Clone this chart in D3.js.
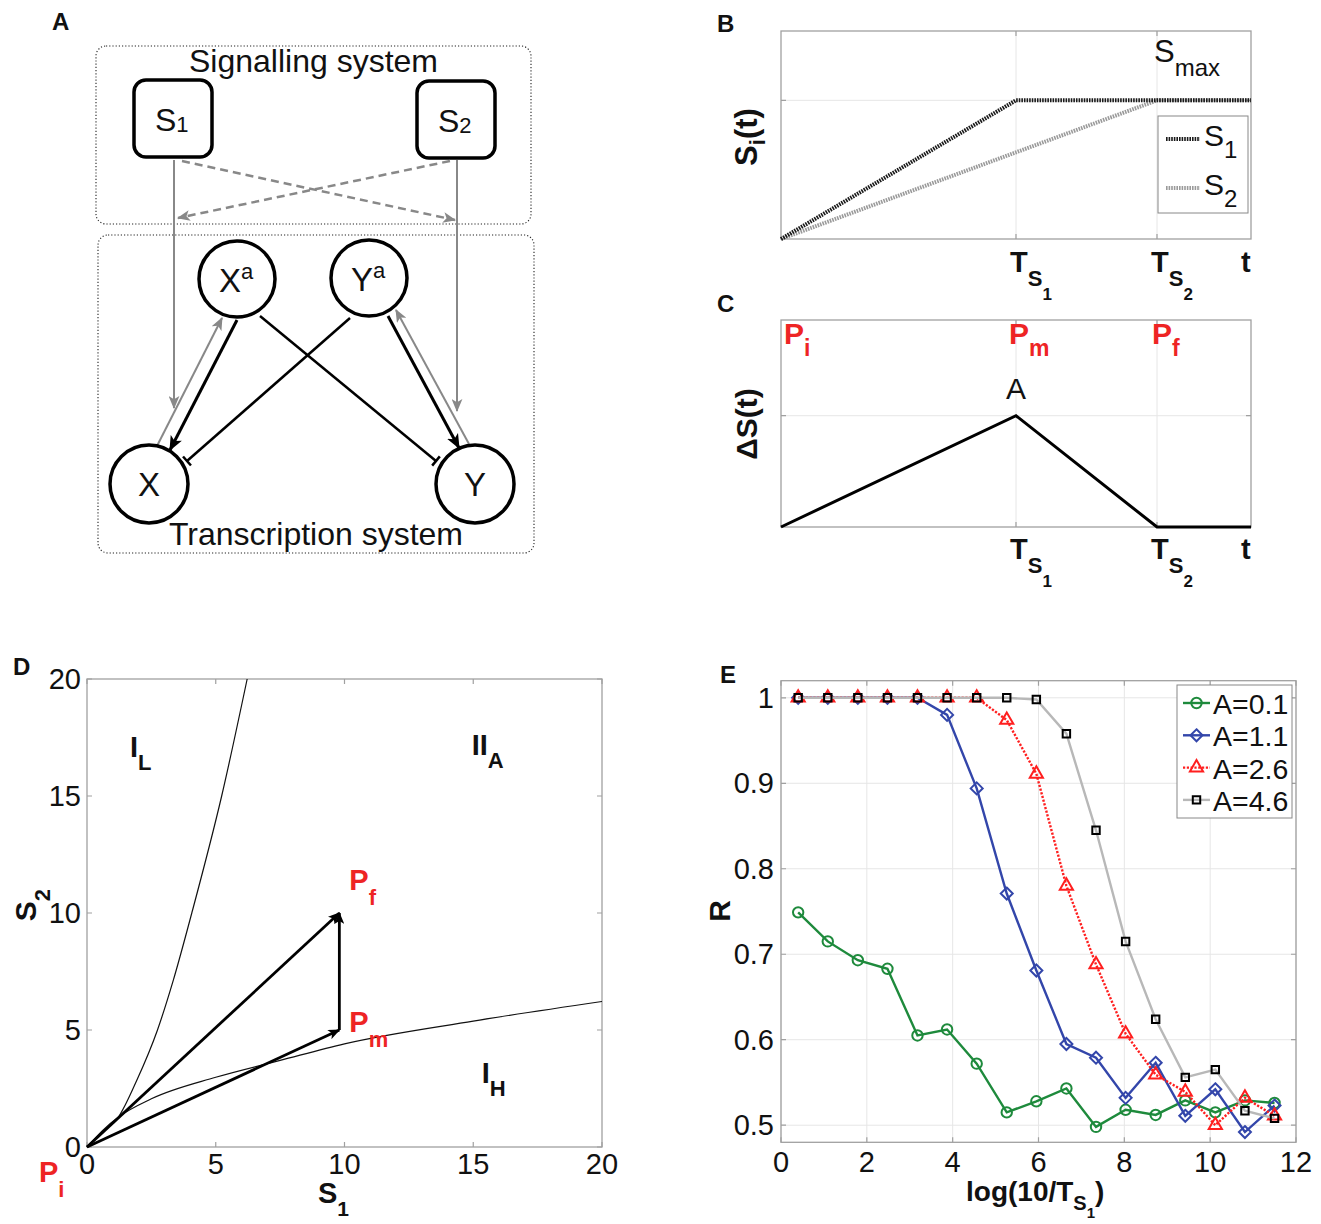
<!DOCTYPE html>
<html>
<head>
<meta charset="utf-8">
<script src="https://cdn.jsdelivr.net/npm/d3@7"></script>
<style>
body{margin:0;background:#fff}
text{font-family:"Liberation Sans",Arial,sans-serif}
</style>
</head>
<body>
<svg id="fig" width="1321" height="1224"></svg>
<script>
// ---- data ----
// panel E: x = log(10/T_S1), one R series per amplitude A
var logT   = [0.40,1.09,1.79,2.48,3.18,3.87,4.56,5.26,5.95,6.65,7.34,8.03,8.73,9.42,10.12,10.81,11.50];
var rA01   = [0.749,0.715,0.693,0.683,0.605,0.612,0.572,0.515,0.528,0.543,0.498,0.518,0.512,0.529,0.515,0.529,0.526];
var rA11   = [1,1,1,1,1,0.980,0.894,0.771,0.681,0.595,0.579,0.532,0.573,0.511,0.542,0.492,0.523];
var rA26   = [1,1,1,1,1,1,1,0.974,0.911,0.780,0.688,0.607,0.559,0.539,0.500,0.532,0.511];
var rA46   = [1,1,1,1,1,1,1,1,0.998,0.958,0.845,0.715,0.624,0.556,0.565,0.517,0.508];
var ampLabels = ["A=0.1","A=1.1","A=2.6","A=4.6"];
var eXTicks = [0,2,4,6,8,10,12];
var eYTicks = [0.5,0.6,0.7,0.8,0.9,1];

// panel D: phase boundaries and the Pi -> Pm -> Pf path
var upperS1 = [0,0.6,1.22,1.93,2.73,3.35,4.07,5.23,6.22];
var upperS2 = [0,0.65,1.28,2.84,4.98,7.12,10,15,20];
var lowerS1 = [0,0.6,1.22,2.5,5,7.5,10,15,20];
var lowerS2 = [0,0.7,1.28,2.06,2.98,3.7,4.41,5.38,6.22];
var pathS1  = [0,9.8,9.8];
var pathS2  = [0,5,10];
var dTicks  = [0,5,10,15,20];

// panels B and C: time courses (t in arbitrary units, T_S1 = 5, T_S2 = 8)
var tTimes  = [0,5,8,10];
var s1Vals  = [0,1,1,1];
var s2Vals  = [0,0.625,1,1];
var dSVals  = [0,1,0,0];

var svg = d3.select("#fig");
var RED = "#ee2424";

// text with chained sub/superscripts: parts = [[text, dy, size], ...]
function rich(g, x, y, parts, opt){
  opt = opt || {};
  var t = g.append("text").attr("x", x).attr("y", y)
    .attr("fill", opt.fill || "#111")
    .attr("font-weight", opt.weight || "normal")
    .attr("text-anchor", opt.anchor || "start");
  if (opt.rotate) t.attr("transform", "rotate(-90," + x + "," + y + ")");
  parts.forEach(function(p){
    t.append("tspan").attr("dy", p[1]).attr("font-size", p[2]).text(p[0]);
  });
  return t;
}
function letter(x, y, s){
  svg.append("text").attr("x", x).attr("y", y).attr("font-size", 24)
    .attr("font-weight", "bold").attr("fill", "#111").text(s);
}

// markers
var defs = svg.append("defs");
function arrowMarker(id, color, w, h){
  defs.append("marker").attr("id", id).attr("markerUnits", "userSpaceOnUse")
    .attr("viewBox", "0 0 12 10").attr("refX", 11).attr("refY", 5)
    .attr("markerWidth", w).attr("markerHeight", h).attr("orient", "auto")
    .append("path").attr("d", "M0,0 L12,5 L0,10 L3,5 Z").attr("fill", color);
}
arrowMarker("aBlk", "#000", 15, 13);
arrowMarker("aGry", "#888", 13, 11);
arrowMarker("aD", "#000", 13, 10);
defs.append("marker").attr("id", "tBar").attr("markerUnits", "userSpaceOnUse")
  .attr("viewBox", "-2 -7 4 14").attr("refX", 0).attr("refY", 0)
  .attr("markerWidth", 4).attr("markerHeight", 14).attr("orient", "auto")
  .append("path").attr("d", "M0,-6 L0,6").attr("stroke", "#000").attr("stroke-width", 2.5);

// ================= panel A : network diagram =================
letter(52, 30, "A");
var gA = svg.append("g");
var boxes = [{x:96,y:46,w:435,h:178,label:"Signalling system",ly:72},
             {x:98,y:235,w:436,h:318,label:"Transcription system",ly:545}];
boxes.forEach(function(b){
  gA.append("rect").attr("x", b.x).attr("y", b.y).attr("width", b.w).attr("height", b.h)
    .attr("rx", 10).attr("fill", "none").attr("stroke", "#222")
    .attr("stroke-width", 1.1).attr("stroke-dasharray", "1.2,2");
  gA.append("text").attr("x", b.x + b.w/2).attr("y", b.ly).attr("text-anchor", "middle")
    .attr("font-size", 32).attr("fill", "#111").text(b.label);
});
var sigNodes = [{id:"S",sub:"1",x:134,y:80},{id:"S",sub:"2",x:417,y:81}];
sigNodes.forEach(function(n){
  gA.append("rect").attr("x", n.x).attr("y", n.y).attr("width", 78).attr("height", 77)
    .attr("rx", 12).attr("fill", "#fff").attr("stroke", "#000").attr("stroke-width", 3.5);
  rich(gA, n.x + 21, n.y + 51, [[n.id, 0, 32], [n.sub, 1, 22]]);
});
var txNodes = [{id:"X",sup:"a",cx:237,cy:279,r:38},{id:"Y",sup:"a",cx:369,cy:278,r:38},
               {id:"X",sup:"",cx:149,cy:484,r:39},{id:"Y",sup:"",cx:475,cy:484,r:39}];
var edges = [
  {x1:174,y1:160,x2:174,y2:408,c:"#888",w:2,m:"aGry"},
  {x1:457,y1:160,x2:457,y2:411,c:"#888",w:2,m:"aGry"},
  {x1:182,y1:161,x2:455,y2:220,c:"#888",w:2.5,m:"aGry",dash:"8,5"},
  {x1:450,y1:161,x2:178,y2:218,c:"#888",w:2.5,m:"aGry",dash:"8,5"},
  {x1:157,y1:446,x2:222,y2:318,c:"#888",w:2,m:"aGry"},
  {x1:237,y1:320,x2:170,y2:450,c:"#000",w:3,m:"aBlk"},
  {x1:260,y1:316,x2:436,y2:461,c:"#000",w:2.5,m:"tBar"},
  {x1:350,y1:318,x2:187,y2:461,c:"#000",w:2.5,m:"tBar"},
  {x1:388,y1:316,x2:459,y2:448,c:"#000",w:3,m:"aBlk"},
  {x1:469,y1:444,x2:396,y2:310,c:"#888",w:2,m:"aGry"}
];
edges.forEach(function(e){
  gA.append("line").attr("x1", e.x1).attr("y1", e.y1).attr("x2", e.x2).attr("y2", e.y2)
    .attr("stroke", e.c).attr("stroke-width", e.w)
    .attr("stroke-dasharray", e.dash || null)
    .attr("marker-end", "url(#" + e.m + ")");
});
txNodes.forEach(function(n){
  gA.append("circle").attr("cx", n.cx).attr("cy", n.cy).attr("r", n.r)
    .attr("fill", "#fff").attr("stroke", "#000").attr("stroke-width", 3.5);
  if (n.sup) rich(gA, n.cx - 18, n.cy + 13, [[n.id, 0, 33], [n.sup, -13, 22]]);
  else gA.append("text").attr("x", n.cx).attr("y", n.cy + 12).attr("text-anchor", "middle")
        .attr("font-size", 33).attr("fill", "#111").text(n.id);
});

// ================= helper: matlab-like axes box =================
function boxAxes(g, x, y, xt, yt, opt){
  var x0 = x.range()[0], x1 = x.range()[1], y0 = y.range()[0], y1 = y.range()[1];
  if (opt.grid){
    g.selectAll(null).data(xt).enter().append("line")
      .attr("x1", x).attr("x2", x).attr("y1", y1).attr("y2", y0)
      .attr("stroke", "#e6e6e6").attr("stroke-width", 1);
    g.selectAll(null).data(yt).enter().append("line")
      .attr("y1", y).attr("y2", y).attr("x1", x0).attr("x2", x1)
      .attr("stroke", "#e6e6e6").attr("stroke-width", 1);
  }
  g.append("rect").attr("x", x0).attr("y", y1).attr("width", x1 - x0).attr("height", y0 - y1)
    .attr("fill", "none").attr("stroke", "#a0a0a0").attr("stroke-width", 1.3);
  var tl = opt.tick || 5;
  g.selectAll(null).data(xt).enter().append("path")
    .attr("d", function(d){ return "M" + x(d) + "," + y0 + "v" + (-tl) + "M" + x(d) + "," + y1 + "v" + tl; })
    .attr("stroke", "#a0a0a0").attr("stroke-width", 1.2);
  g.selectAll(null).data(yt).enter().append("path")
    .attr("d", function(d){ return "M" + x0 + "," + y(d) + "h" + tl + "M" + x1 + "," + y(d) + "h" + (-tl); })
    .attr("stroke", "#a0a0a0").attr("stroke-width", 1.2);
}

// ================= panel B =================
letter(717, 32, "B");
var gB = svg.append("g");
var xB = d3.scaleLinear().domain([0,10]).range([781,1251]);
var yB = d3.scaleLinear().domain([0,1.5]).range([239,31]);
var tMarks = [tTimes[1], tTimes[2]];
boxAxes(gB, xB, yB, tMarks, [1], {grid:true});
var lineB = function(vals){
  return d3.line().x(function(d, i){ return xB(tTimes[i]); }).y(function(d){ return yB(d); })(vals);
};
gB.append("path").attr("d", lineB(s2Vals)).attr("fill", "none").attr("stroke", "#9a9a9a")
  .attr("stroke-width", 4).attr("stroke-dasharray", "1.6,1");
gB.append("path").attr("d", lineB(s1Vals)).attr("fill", "none").attr("stroke", "#1a1a1a")
  .attr("stroke-width", 4).attr("stroke-dasharray", "1.6,1");
rich(gB, 1154, 62, [["S", 0, 31], ["max", 14, 24]]);
// legend
gB.append("rect").attr("x", 1158).attr("y", 116).attr("width", 90).attr("height", 97)
  .attr("fill", "#fff").attr("stroke", "#888").attr("stroke-width", 1);
[["1", "#1a1a1a", 139], ["2", "#9a9a9a", 188]].forEach(function(l){
  gB.append("line").attr("x1", 1166).attr("x2", 1200).attr("y1", l[2]).attr("y2", l[2])
    .attr("stroke", l[1]).attr("stroke-width", 4).attr("stroke-dasharray", "1.6,1");
  rich(gB, 1204, l[2] + 7, [["S", 0, 30], [l[0], 12, 24]]);
});
function timeTicks(g, x, yBase){
  ["1","2"].forEach(function(k, i){
    rich(g, x(tMarks[i]) - 6, yBase, [["T", 0, 29], ["S", 14, 22], [k, 14, 17]], {weight:"bold"});
  });
  g.append("text").attr("x", x(10) - 10).attr("y", yBase).attr("font-size", 29)
    .attr("font-weight", "bold").attr("fill", "#111").text("t");
}
timeTicks(gB, xB, 272);
rich(gB, 757, 137, [["S", 0, 31], ["i", 8, 22], ["(t)", -8, 31]], {weight:"bold", rotate:true, anchor:"middle"});

// ================= panel C =================
letter(717, 312, "C");
var gC = svg.append("g");
var xC = d3.scaleLinear().domain([0,10]).range([781,1251]);
var yC = d3.scaleLinear().domain([0,1.86]).range([527,320]);
boxAxes(gC, xC, yC, tMarks, [1], {grid:true});
gC.append("path")
  .attr("d", d3.line().x(function(d, i){ return xC(tTimes[i]); }).y(function(d){ return yC(d); })(dSVals))
  .attr("fill", "none").attr("stroke", "#000").attr("stroke-width", 3);
gC.append("text").attr("x", xC(tTimes[1])).attr("y", 399).attr("text-anchor", "middle")
  .attr("font-size", 30).attr("fill", "#111").text("A");
[["i", 0, 3], ["m", 1, -7], ["f", 2, -5]].forEach(function(p){
  rich(gC, xC(tTimes[p[1]]) + p[2], 344, [["P", 0, 30], [p[0], 12, 23]], {weight:"bold", fill:RED});
});
timeTicks(gC, xC, 559);
rich(gC, 757, 424, [["\u0394S(t)", 0, 30]], {weight:"bold", rotate:true, anchor:"middle"});

// ================= panel D =================
letter(13, 675, "D");
var gD = svg.append("g");
var xD = d3.scaleLinear().domain([0,20]).range([87,602]);
var yD = d3.scaleLinear().domain([0,20]).range([1147,679]);
boxAxes(gD, xD, yD, dTicks, dTicks, {grid:false});
var curve = d3.line().curve(d3.curveMonotoneX);
gD.append("path").attr("d", curve(upperS1.map(function(s, i){ return [xD(s), yD(upperS2[i])]; })))
  .attr("fill", "none").attr("stroke", "#111").attr("stroke-width", 1.2);
gD.append("path").attr("d", curve(lowerS1.map(function(s, i){ return [xD(s), yD(lowerS2[i])]; })))
  .attr("fill", "none").attr("stroke", "#111").attr("stroke-width", 1.2);
[[0,1],[1,2],[0,2]].forEach(function(seg){
  gD.append("line")
    .attr("x1", xD(pathS1[seg[0]])).attr("y1", yD(pathS2[seg[0]]))
    .attr("x2", xD(pathS1[seg[1]])).attr("y2", yD(pathS2[seg[1]]))
    .attr("stroke", "#000").attr("stroke-width", 2.8).attr("marker-end", "url(#aD)");
});
gD.selectAll(null).data(dTicks).enter().append("text")
  .attr("x", function(d){ return xD(d); }).attr("y", 1174).attr("text-anchor", "middle")
  .attr("font-size", 29).attr("fill", "#111").text(function(d){ return d; });
gD.selectAll(null).data(dTicks).enter().append("text")
  .attr("x", 81).attr("y", function(d){ return yD(d) + 10; }).attr("text-anchor", "end")
  .attr("font-size", 29).attr("fill", "#111").text(function(d){ return d; });
rich(gD, 318, 1203, [["S", 0, 29], ["1", 13, 21]], {weight:"bold"});
rich(gD, 36, 905, [["S", 0, 30], ["2", 14, 22]], {weight:"bold", rotate:true, anchor:"middle"});
// point labels
rich(gD, xD(pathS1[0]) - 48, yD(pathS2[0]) + 35, [["P", 0, 29], ["i", 15, 22]], {weight:"bold", fill:RED});
rich(gD, xD(pathS1[1]) + 10, yD(pathS2[1]) + 2, [["P", 0, 29], ["m", 15, 22]], {weight:"bold", fill:RED});
rich(gD, xD(pathS1[2]) + 10, yD(pathS2[2]) - 23, [["P", 0, 29], ["f", 15, 22]], {weight:"bold", fill:RED});
rich(gD, xD(1.67), yD(16.67), [["I", 0, 29], ["L", 13, 22]], {weight:"bold"});
rich(gD, xD(14.94), yD(16.75), [["II", 0, 29], ["A", 13, 22]], {weight:"bold"});
rich(gD, xD(15.33), yD(2.73), [["I", 0, 29], ["H", 13, 22]], {weight:"bold"});

// ================= panel E =================
letter(720, 683, "E");
var gE = svg.append("g");
var xE = d3.scaleLinear().domain([0,12]).range([781,1296]);
var yE = d3.scaleLinear().domain([0.48,1.02]).range([1142.3,680.7]);
boxAxes(gE, xE, yE, eXTicks, eYTicks, {grid:true});
gE.selectAll(null).data(eXTicks).enter().append("text")
  .attr("x", function(d){ return xE(d); }).attr("y", 1172).attr("text-anchor", "middle")
  .attr("font-size", 29).attr("fill", "#111").text(function(d){ return d; });
gE.selectAll(null).data(eYTicks).enter().append("text")
  .attr("x", 774).attr("y", function(d){ return yE(d) + 10; }).attr("text-anchor", "end")
  .attr("font-size", 29).attr("fill", "#111").text(function(d){ return d3.format(".1~f")(d); });
rich(gE, 966, 1201, [["log(10/T", 0, 28], ["S", 9, 20], ["1", 8, 15], [")", -17, 28]], {weight:"bold"});
rich(gE, 730, 911, [["R", 0, 30]], {weight:"bold", rotate:true, anchor:"middle"});

var diamond = "M0,-6L6,0L0,6L-6,0Z";
var series = [
  {v:rA01, line:"#1e8a3c", mk:"#1e8a3c", dash:null, sym:d3.symbol(d3.symbolCircle, 85)()},
  {v:rA11, line:"#3346aa", mk:"#3346aa", dash:null, sym:diamond},
  {v:rA26, line:"#ff1f1f", mk:"#ff1f1f", dash:"2.2,1.6", sym:d3.symbol(d3.symbolTriangle, 75)()},
  {v:rA46, line:"#b8b8b8", mk:"#000", dash:null, sym:d3.symbol(d3.symbolSquare, 55)()}
];
var lineE = d3.line().x(function(d, i){ return xE(logT[i]); }).y(function(d){ return yE(d); });
series.forEach(function(s){
  var g = gE.append("g");
  g.append("path").attr("d", lineE(s.v)).attr("fill", "none").attr("stroke", s.line)
    .attr("stroke-width", 2.4).attr("stroke-dasharray", s.dash);
  g.selectAll(null).data(s.v).enter().append("path")
    .attr("transform", function(d, i){ return "translate(" + xE(logT[i]) + "," + yE(d) + ")"; })
    .attr("d", s.sym).attr("fill", "none").attr("stroke", s.mk).attr("stroke-width", 2);
});
// legend
var lg = gE.append("g");
lg.append("rect").attr("x", 1177).attr("y", 685).attr("width", 115).attr("height", 133)
  .attr("fill", "#fff").attr("stroke", "#888").attr("stroke-width", 1);
series.forEach(function(s, i){
  var yy = 703 + i * 32.3;
  lg.append("line").attr("x1", 1183).attr("x2", 1210).attr("y1", yy).attr("y2", yy)
    .attr("stroke", s.line).attr("stroke-width", 2.4).attr("stroke-dasharray", s.dash);
  lg.append("path").attr("transform", "translate(1196.5," + yy + ")").attr("d", s.sym)
    .attr("fill", "none").attr("stroke", s.mk).attr("stroke-width", 2);
  lg.append("text").attr("x", 1213).attr("y", yy + 11).attr("font-size", 28.5)
    .attr("fill", "#111").text(ampLabels[i]);
});
</script>
</body>
</html>
